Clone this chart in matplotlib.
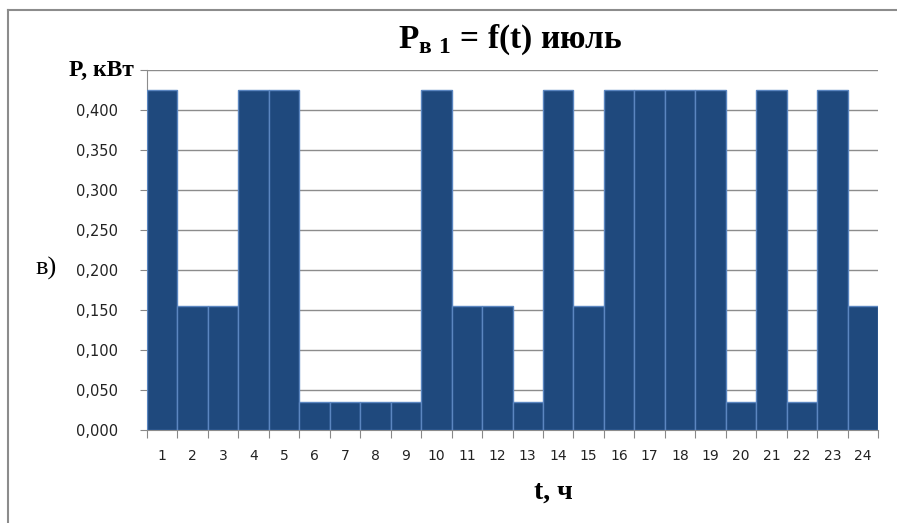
import numpy as np
import matplotlib.pyplot as plt
from matplotlib.lines import Line2D

plt.rcParams['mathtext.fontset'] = 'custom'
plt.rcParams['mathtext.rm'] = 'Liberation Serif:bold'
plt.rcParams['mathtext.bf'] = 'Liberation Serif:bold'

hours = np.arange(1, 25)
power = [0.425, 0.155, 0.155, 0.425, 0.425, 0.035, 0.035, 0.035, 0.035, 0.425,
         0.155, 0.155, 0.035, 0.425, 0.155, 0.425, 0.425, 0.425, 0.425, 0.035,
         0.425, 0.035, 0.425, 0.155]
y_ticks = np.arange(0, 0.451, 0.05)

fig = plt.figure(figsize=(8.97, 5.23), dpi=100)
ax = fig.add_axes([147 / 897, 93 / 523, 731 / 897, 360 / 523])

ax.bar(hours, power, width=1.0, color='#1F497D', edgecolor='#5B86C0', linewidth=1, zorder=3)

ax.set_xlim(0.5, 24.5)
ax.set_ylim(0, 0.45)

# tick marks on bin boundaries, labels at bar centres
ax.set_xticks(np.arange(0.5, 25, 1))
ax.set_xticklabels([])
ax.set_xticks(hours, minor=True)
ax.set_xticklabels([str(h) for h in hours], minor=True)
ax.tick_params(axis='x', which='major', length=6, color='#888888', direction='out')
ax.tick_params(axis='x', which='minor', length=0, pad=14, labelsize=10, labelcolor='#222222')

ax.set_yticks(y_ticks)
labels = ['{:.3f}'.format(v).replace('.', ',') for v in y_ticks]
labels[-1] = ''
ax.set_yticklabels(labels)
ax.tick_params(axis='y', length=5, color='#888888', direction='out', pad=16,
               labelsize=10.5, labelcolor='#222222')

ax.grid(axis='y', color='#8C8C8C', linewidth=1, zorder=0)
ax.set_axisbelow(True)
for side in ['top', 'right']:
    ax.spines[side].set_visible(False)
for side in ['left', 'bottom']:
    ax.spines[side].set_color('#8C8C8C')

# outer frame
fig.add_artist(Line2D([8 / 897, 8 / 897], [0, 1 - 10 / 523], color='#8C8C8C', linewidth=1.5))
fig.add_artist(Line2D([8 / 897, 1], [1 - 10 / 523, 1 - 10 / 523], color='#8C8C8C', linewidth=1.5))

fig.text(510 / 897, 1 - 40 / 523, r'$\mathrm{P}_{\mathrm{в\ 1}}$ = f(t) июль',
         ha='center', va='center', fontsize=24, family='Liberation Serif', weight='bold')
fig.text(134 / 897, 1 - 70 / 523, 'P, кВт', ha='right', va='center',
         fontsize=17, family='Liberation Serif', weight='bold')
fig.text(46 / 897, 1 - 268 / 523, 'в)', ha='center', va='center',
         fontsize=19, family='Liberation Serif')
fig.text(553 / 897, 1 - 492 / 523, 't, ч', ha='center', va='center',
         fontsize=20, family='Liberation Serif', weight='bold')

fig.savefig('out.png', dpi=100)
